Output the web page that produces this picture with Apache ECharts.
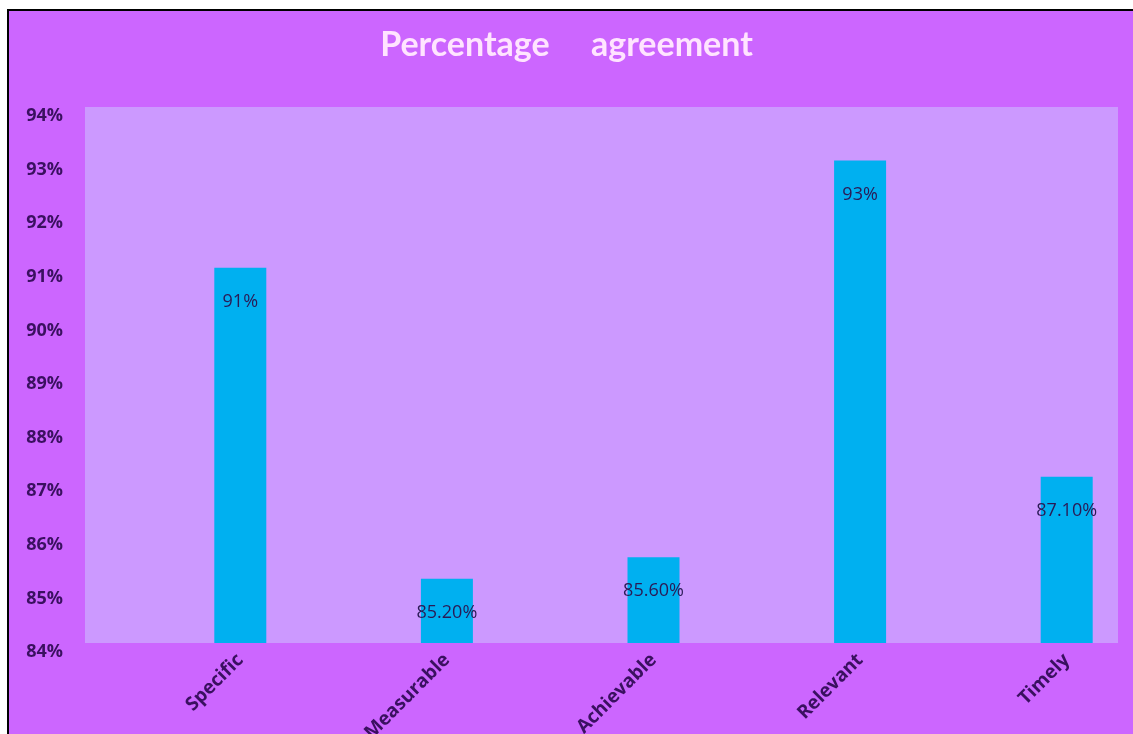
<!DOCTYPE html>
<html>
<head>
<meta charset="utf-8">
<script src="https://cdn.jsdelivr.net/npm/echarts@6/dist/echarts.min.js"></script>
<style>
  html, body { margin: 0; padding: 0; background: #ffffff; }
  #chart { width: 1133px; height: 734px; }
</style>
</head>
<body>
<div id="chart"></div>
<script>
const titleText = 'Percentage     agreement';
const categories = ['Specific', 'Measurable', 'Achievable', 'Relevant', 'Timely'];
const values = [0.91, 0.852, 0.856, 0.93, 0.871];
const valueLabels = ['91%', '85.20%', '85.60%', '93%', '87.10%'];
const yMin = 0.84, yMax = 0.94, yStep = 0.01;

const chart = echarts.init(document.getElementById('chart'), null, { renderer: 'canvas' });
const labelColor = '#3a1060';
const font = 'Open Sans';

chart.setOption({
  backgroundColor: '#ffffff',
  animation: false,
  graphic: [{
    type: 'rect', z: -10, silent: true,
    shape: { x: 8, y: 10, width: 1140, height: 740 },
    style: { fill: '#CC66FF', stroke: '#000000', lineWidth: 2 }
  }],
  title: {
    text: titleText, left: 'center', top: 23,
    textStyle: { color: '#FFE4FF', fontSize: 34, fontWeight: 'bold', fontFamily: 'Lato' }
  },
  grid: [
    { left: 85, top: 107, width: 1033, height: 536, show: true, backgroundColor: '#CC99FF', borderWidth: 0, containLabel: false, outerBoundsMode: 'none' },
    { left: 137, top: 107, width: 1033, height: 536, show: false, containLabel: false, outerBoundsMode: 'none' }
  ],
  xAxis: [
    { gridIndex: 0, type: 'category', data: categories, show: false },
    { gridIndex: 1, type: 'category', data: categories,
      axisLine: { show: false }, axisTick: { show: false },
      axisLabel: { rotate: 45, margin: 14, color: labelColor, fontSize: 19, fontFamily: font, fontWeight: 'bold' } }
  ],
  yAxis: [
    { gridIndex: 0, type: 'value', min: yMin, max: yMax, interval: yStep,
      axisLine: { show: false }, axisTick: { show: false },
      splitLine: { show: false },
      axisLabel: { margin: 22, color: labelColor, fontSize: 18, fontFamily: font, fontWeight: 'bold',
        verticalAlign: 'top',
        formatter: v => Math.round(v * 100) + '%' } },
    { gridIndex: 1, type: 'value', min: yMin, max: yMax, interval: yStep, show: false }
  ],
  series: [{
    type: 'bar', xAxisIndex: 1, yAxisIndex: 1,
    data: values, barWidth: 52,
    itemStyle: { color: '#00B0F0' },
    label: {
      show: true, position: 'insideTop', distance: 25,
      color: '#2a1a55', fontSize: 18, fontFamily: font,
      formatter: p => valueLabels[p.dataIndex]
    }
  }]
});
</script>
</body>
</html>
